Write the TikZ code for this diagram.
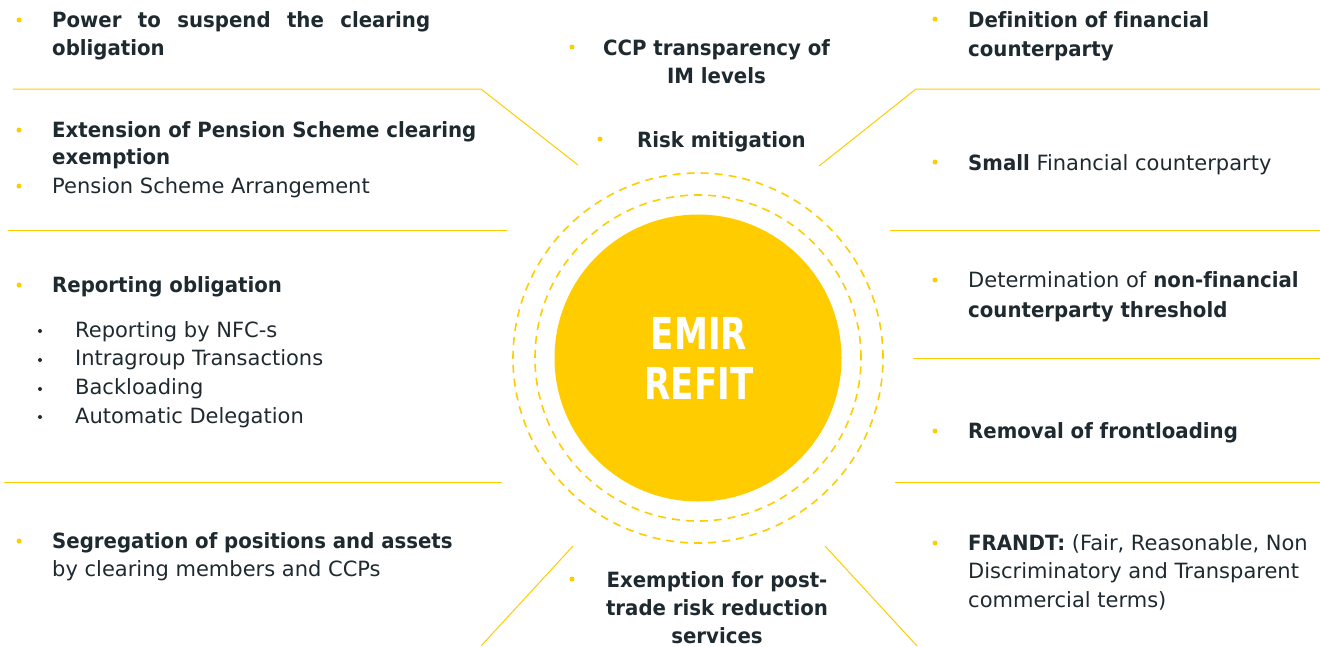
\documentclass[tikz,border=0pt]{standalone}
\usepackage{fontspec}
\setmainfont{DejaVu Sans}[Ligatures=NoCommon, BoldFont={DejaVu Sans Condensed Bold}, BoldFeatures={FakeStretch=1.045}]
\newfontfamily\titlefont{DejaVu Sans Condensed Bold}[FakeStretch=0.86]
\definecolor{emiryellow}{HTML}{FFCC00}
\definecolor{ink}{HTML}{1E2A2F}
\newcommand{\lines}[2]{\parbox[t]{#1}{\raggedright #2}}
\newcommand{\clines}[2]{\parbox[t]{#1}{\centering #2}}
\begin{document}
\begin{tikzpicture}[x=1pt,y=-1pt,
  rule/.style={draw=emiryellow, line width=1pt},
  ring/.style={draw=emiryellow, line width=1.6pt, dash pattern=on 8pt off 6pt},
  ybul/.style={circle, fill=emiryellow, inner sep=0pt, minimum size=5pt},
  kbul/.style={circle, fill=ink, inner sep=0pt, minimum size=4pt},
  item/.style={anchor=base west, inner sep=0pt, text=ink, font=\fontsize{21}{28.7}\selectfont},
  citem/.style={anchor=base, inner sep=0pt, text=ink, font=\fontsize{21}{28}\selectfont},
]
\useasboundingbox (0,0) rectangle (1320,646);

% central disc and dashed rings
\node[circle, fill=emiryellow, minimum size=287pt, inner sep=0pt] (core) at (698,358) {};
\draw[ring] (core.center) circle[radius=163pt];
\draw[ring] (core.center) circle[radius=185pt];
\node[anchor=base, inner sep=0pt, text=white, font=\titlefont\fontsize{44}{50}\selectfont] (title) at (699,349) {\clines{220pt}{EMIR\\REFIT}};

% separator rules
\draw[rule] (13,89) -- (481,89) -- (578,165);
\draw[rule] (8,230) -- (507,230);
\draw[rule] (4,482) -- (502,482);
\draw[rule] (573,546) -- (481,646);
\draw[rule] (1320,89) -- (916,89) -- (819,166);
\draw[rule] (890,230) -- (1320,230);
\draw[rule] (913,358) -- (1320,358);
\draw[rule] (895,482) -- (1320,482);
\draw[rule] (825,546) -- (917,646);

% left column
\node[ybul] (bA) at (19,20) {};
\node[item, font=\bfseries\fontsize{21}{28.7}\selectfont] (tA) at (52,27) {\lines{420pt}{\makebox[378pt][s]{Power to suspend the clearing}\\obligation}};
\node[ybul] (bB) at (19,130) {};
\node[item, font=\bfseries\fontsize{21}{27}\selectfont] (tB) at (52,137) {\lines{460pt}{Extension of Pension Scheme clearing\\exemption}};
\node[ybul] (bC) at (19,186) {};
\node[item] (tC) at (52,193) {Pension Scheme Arrangement};
\node[ybul] (bD) at (19,285) {};
\node[item, font=\bfseries\fontsize{21}{28.7}\selectfont] (tD) at (52,292) {Reporting obligation};
\node[kbul] (k1) at (40,331) {};
\node[kbul] (k2) at (40,360) {};
\node[kbul] (k3) at (40,389) {};
\node[kbul] (k4) at (40,417) {};
\node[item] (tSub) at (75,337) {\lines{400pt}{Reporting by NFC-s\\Intragroup Transactions\\Backloading\\Automatic Delegation}};
\node[ybul] (bE) at (19,541) {};
\node[item] (tE) at (52,548) {\lines{440pt}{\textbf{Segregation of positions and assets}\\by clearing members and CCPs}};

% centre column
\node[ybul] (bF) at (572,47) {};
\node[citem, font=\bfseries\fontsize{21}{28}\selectfont] (tF) at (716.5,55) {\clines{300pt}{CCP transparency of\\IM levels}};
\node[ybul] (bG) at (600,139) {};
\node[item, font=\bfseries\fontsize{21}{28}\selectfont] (tG) at (637,147) {Risk mitigation};
\node[ybul] (bH) at (572,579) {};
\node[citem, font=\bfseries\fontsize{21}{28}\selectfont] (tH) at (717,587) {\clines{300pt}{Exemption for post-\\trade risk reduction\\services}};

% right column
\node[ybul] (bI) at (935,19) {};
\node[item, font=\bfseries\fontsize{21}{29}\selectfont] (tI) at (968,27) {\lines{340pt}{Definition of financial\\counterparty}};
\node[ybul] (bJ) at (935,162) {};
\node[item] (tJ) at (968,170) {\textbf{Small} Financial counterparty};
\node[ybul] (bK) at (935,280) {};
\node[item, font=\fontsize{21}{30}\selectfont] (tK) at (968,287) {\lines{350pt}{Determination of \textbf{non-financial}\\\textbf{counterparty threshold}}};
\node[ybul] (bL) at (935,431) {};
\node[item, font=\bfseries\fontsize{21}{28.7}\selectfont] (tL) at (968,438) {Removal of frontloading};
\node[ybul] (bM) at (935,543) {};
\node[item] (tM) at (968,550) {\lines{352pt}{\textbf{FRANDT:} (Fair, Reasonable, Non\\Discriminatory and Transparent\\commercial terms)}};
\end{tikzpicture}
\end{document}
